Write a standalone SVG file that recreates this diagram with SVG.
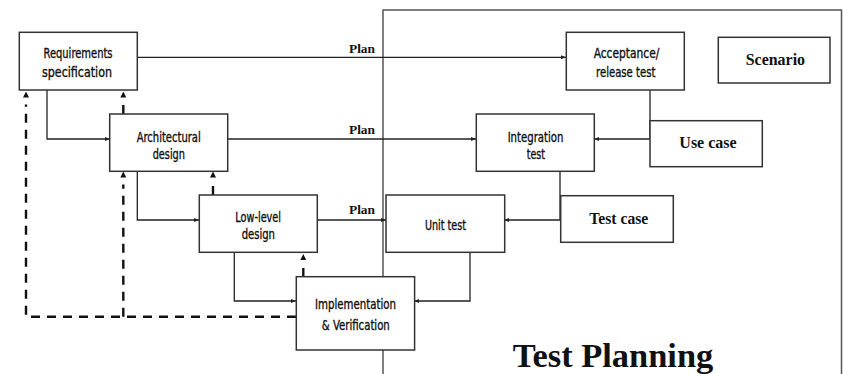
<svg xmlns="http://www.w3.org/2000/svg" width="843" height="374" viewBox="0 0 843 374">
<style>
.box{fill:#fff;stroke:#333;stroke-width:1.5}
.t{font-family:"DejaVu Sans Condensed","Liberation Sans",sans-serif;font-size:14px;fill:#111;stroke:#111;stroke-width:0.35;text-anchor:middle}
.b{font-family:"Liberation Serif","Times New Roman",serif;font-weight:bold;fill:#111;text-anchor:middle}
.p{font-family:"Liberation Serif","Times New Roman",serif;font-weight:bold;fill:#111;font-size:13px}
.c{fill:none;stroke:#222;stroke-width:1.3}
.d{fill:none;stroke:#111;stroke-width:2.4;stroke-dasharray:9 7}
</style>
<defs>
<marker id="a" viewBox="0 0 5 4" refX="5" refY="2" markerWidth="5" markerHeight="4" markerUnits="userSpaceOnUse" orient="auto"><path d="M0,0 L5,2 L0,4 z" fill="#222"/></marker>
<marker id="da" viewBox="0 0 13 6" refX="0" refY="3" markerWidth="13" markerHeight="6" markerUnits="userSpaceOnUse" orient="auto"><path d="M7,0 L13,3 L7,6 z" fill="#111"/></marker>
</defs>
<path d="M383,374 V10 H841.5 V374" fill="none" stroke="#555" stroke-width="1.5"/>
<g id="connectors">
<path class="c" d="M137,57.3 H566" marker-end="url(#a)"/>
<path class="c" d="M228,139 H476" marker-end="url(#a)"/>
<path class="c" d="M317,220 H386" marker-end="url(#a)"/>
<path class="c" d="M47,90 V139 H110" marker-end="url(#a)"/>
<path class="c" d="M137.3,171 V220 H199" marker-end="url(#a)"/>
<path class="c" d="M234.3,252 V301 H296" marker-end="url(#a)"/>
<path class="c" d="M470,252 V301 H414" marker-end="url(#a)"/>
<path class="c" d="M650,90 V139 H594" marker-end="url(#a)"/>
<path class="c" d="M560,171 V220 H504" marker-end="url(#a)"/>
<path class="d" d="M296,316.7 H26 V104.5" marker-end="url(#da)"/>
<path class="d" d="M123.3,316.7 V184.5" marker-end="url(#da)"/>
<path class="d" d="M123.3,114 V104.5" stroke-dasharray="none" marker-end="url(#da)"/>
<path class="d" d="M213,195 V184.5" stroke-dasharray="none" marker-end="url(#da)"/>
<path class="d" d="M303.3,277 V267" stroke-dasharray="none" marker-end="url(#da)"/>
<text class="p" x="349" y="52.5" textLength="26" lengthAdjust="spacingAndGlyphs">Plan</text>
<text class="p" x="349" y="133.5" textLength="26" lengthAdjust="spacingAndGlyphs">Plan</text>
<text class="p" x="349" y="214" textLength="26" lengthAdjust="spacingAndGlyphs">Plan</text>
</g>
<g id="req">
<rect class="box" x="19.3" y="32.3" width="118" height="57.7"/>
<text class="t" x="78" y="58.3" textLength="69" lengthAdjust="spacingAndGlyphs">Requirements</text>
<text class="t" x="77" y="76.5" textLength="70" lengthAdjust="spacingAndGlyphs">specification</text>
</g>
<g id="arch">
<rect class="box" x="109.7" y="114" width="118" height="57.3"/>
<text class="t" x="168.7" y="141.5" textLength="64" lengthAdjust="spacingAndGlyphs">Architectural</text>
<text class="t" x="168.8" y="159" textLength="32.3" lengthAdjust="spacingAndGlyphs">design</text>
</g>
<g id="low">
<rect class="box" x="199.3" y="195" width="118" height="57.3"/>
<text class="t" x="258.2" y="221.7" textLength="45.7" lengthAdjust="spacingAndGlyphs">Low-level</text>
<text class="t" x="258.3" y="239.3" textLength="33.3" lengthAdjust="spacingAndGlyphs">design</text>
</g>
<g id="impl">
<rect class="box" x="296.3" y="276.7" width="118.3" height="73.3"/>
<text class="t" x="355.5" y="309" textLength="81" lengthAdjust="spacingAndGlyphs">Implementation</text>
<text class="t" x="355.8" y="329.5" textLength="68" lengthAdjust="spacingAndGlyphs">&amp; Verification</text>
</g>
<g id="unit">
<rect class="box" x="386" y="195" width="118.7" height="57.3"/>
<text class="t" x="445.5" y="230" textLength="41" lengthAdjust="spacingAndGlyphs">Unit test</text>
</g>
<g id="integration">
<rect class="box" x="476.3" y="114" width="118" height="57.3"/>
<text class="t" x="535.5" y="141.5" textLength="55.7" lengthAdjust="spacingAndGlyphs">Integration</text>
<text class="t" x="535.8" y="159" textLength="18.3" lengthAdjust="spacingAndGlyphs">test</text>
</g>
<g id="acceptance">
<rect class="box" x="566.3" y="32.3" width="118" height="57.7"/>
<text class="t" x="626.5" y="58.3" textLength="65.7" lengthAdjust="spacingAndGlyphs">Acceptance/</text>
<text class="t" x="625.7" y="76.5" textLength="59.3" lengthAdjust="spacingAndGlyphs">release test</text>
</g>
<g id="scenario">
<rect class="box" x="718.3" y="37.3" width="111.7" height="45.7"/>
<text class="b" x="775.4" y="65" font-size="16" textLength="59.3" lengthAdjust="spacingAndGlyphs">Scenario</text>
</g>
<g id="usecase">
<rect class="box" x="650" y="120.7" width="112.3" height="46"/>
<text class="b" x="708" y="148.3" font-size="16" textLength="57.3" lengthAdjust="spacingAndGlyphs">Use case</text>
</g>
<g id="testcase">
<rect class="box" x="560.7" y="195.7" width="112.6" height="46.6"/>
<text class="b" x="618.8" y="224.3" font-size="16" textLength="59" lengthAdjust="spacingAndGlyphs">Test case</text>
</g>
<text class="b" x="613" y="367.3" font-size="34" textLength="200.6" lengthAdjust="spacingAndGlyphs">Test Planning</text>
</svg>
